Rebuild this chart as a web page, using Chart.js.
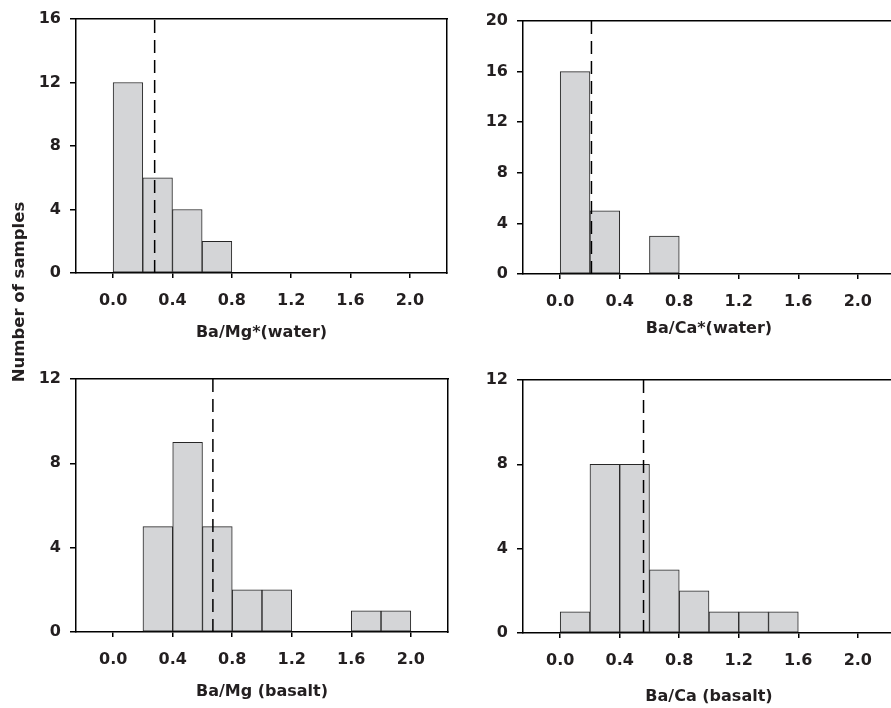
<!DOCTYPE html>
<html><head><meta charset="utf-8">
<script src="https://cdn.jsdelivr.net/npm/chart.js@4.4.1/dist/chart.umd.min.js"></script>
<style>
html,body{margin:0;padding:0;background:#fff;overflow:hidden;width:891px;height:708px;position:relative}
.p{position:absolute}
canvas{display:block}
#ytitle{position:absolute;left:-131px;top:282px;width:300px;height:20px;line-height:20px;text-align:center;transform:rotate(-90deg);font:bold 16.5px 'DejaVu Sans';color:#231f20;white-space:nowrap}
</style></head><body>
<div class="p" style="left:20px;top:0px"><canvas id="c1" width="440" height="342"></canvas></div>
<div class="p" style="left:470px;top:0px"><canvas id="c2" width="440" height="338"></canvas></div>
<div class="p" style="left:20px;top:345px"><canvas id="c3" width="440" height="356"></canvas></div>
<div class="p" style="left:470px;top:345px"><canvas id="c4" width="440" height="361"></canvas></div>
<div id="ytitle">Number of samples</div>
<script>
// ---- data ----
const binCenters = [0.1, 0.3, 0.5, 0.7, 0.9, 1.1, 1.3, 1.5, 1.7, 1.9];
const countsBaMgWater  = [12, 6, 4, 2, 0, 0, 0, 0, 0, 0];
const countsBaCaWater  = [16, 5, 0, 3, 0, 0, 0, 0, 0, 0];
const countsBaMgBasalt = [0, 5, 9, 5, 2, 2, 0, 0, 1, 1];
const countsBaCaBasalt = [1, 8, 8, 3, 2, 1, 1, 1, 0, 0];
const meanBaMgWater = 0.28;
const meanBaCaWater = 0.21;
const meanBaMgBasalt = 0.67;
const meanBaCaBasalt = 0.56;
const xTickValues = [0.0, 0.4, 0.8, 1.2, 1.6, 2.0];
const xTickLabels = ['0.0', '0.4', '0.8', '1.2', '1.6', '2.0'];
const yTicksBaMgWater  = [0, 4, 8, 12, 16];
const yTicksBaCaWater  = [0, 4, 8, 12, 16, 20];
const yTicksBaMgBasalt = [0, 4, 8, 12];
const yTicksBaCaBasalt = [0, 4, 8, 12];
const xTitleBaMgWater  = 'Ba/Mg*(water)';
const xTitleBaCaWater  = 'Ba/Ca*(water)';
const xTitleBaMgBasalt = 'Ba/Mg (basalt)';
const xTitleBaCaBasalt = 'Ba/Ca (basalt)';
const xRange = [-0.25, 2.25];

// ---- styles ----
const TEXT = '#231f20';
const tickFont = {family: 'DejaVu Sans', size: 16, weight: 'bold'};
const titleFont = {family: 'DejaVu Sans', size: 16, weight: 'bold'};

function makePanel(id, counts, mean, yTicks, xTitle, g) {
  const yMax = yTicks[yTicks.length - 1];
  new Chart(document.getElementById(id), {
    type: 'bar',
    data: {
      datasets: [
        {
          type: 'line', order: 0,
          data: [{x: mean, y: 0}, {x: mean, y: yMax}],
          borderColor: '#000', borderWidth: 1.5, borderDash: [13, 7],
          pointRadius: 0, fill: false
        },
        {
          type: 'bar', order: 1,
          data: binCenters.map((x, i) => ({x: x, y: counts[i] ? counts[i] : null})),
          backgroundColor: '#d4d5d7', borderColor: '#262626', borderWidth: 1,
          borderSkipped: false, barPercentage: 1, categoryPercentage: 1
        }
      ]
    },
    options: {
      responsive: false, animation: false,
      layout: {padding: {top: g.padTop, right: g.padRight, left: 0, bottom: 0}},
      plugins: {legend: {display: false}, tooltip: {enabled: false}},
      scales: {
        x: {
          type: 'linear', position: 'bottom', min: xRange[0], max: xRange[1], offset: false,
          afterBuildTicks: s => { s.ticks = xTickValues.map(v => ({value: v})); },
          afterFit: s => { s.height = g.xH; },
          ticks: {font: tickFont, color: TEXT, padding: 13, maxRotation: 0, autoSkip: false,
                  callback: (v) => xTickLabels[xTickValues.indexOf(v)]},
          grid: {display: true, drawOnChartArea: false, drawTicks: true, tickLength: 5, color: '#000', lineWidth: 1.5, offset: false},
          border: {display: true, color: '#000', width: 1.5},
          title: {display: true, text: xTitle, font: titleFont, color: TEXT, padding: 0}
        },
        x2: {
          type: 'linear', position: 'top', display: true,
          afterFit: s => { s.height = 0; },
          ticks: {display: false}, grid: {display: false, drawTicks: false},
          border: {display: true, color: '#000', width: 1.5}
        },
        y: {
          type: 'linear', position: 'left', min: 0, max: yMax,
          afterBuildTicks: s => { s.ticks = yTicks.map(v => ({value: v})); },
          afterFit: s => { s.width = g.yW; },
          ticks: {font: tickFont, color: TEXT, padding: 9, autoSkip: false},
          grid: {display: true, drawOnChartArea: false, drawTicks: true, tickLength: 6, color: '#000', lineWidth: 1.5},
          border: {display: true, color: '#000', width: 1.5}
        },
        y2: {
          type: 'linear', position: 'right', display: true,
          afterFit: s => { s.width = 0; },
          ticks: {display: false}, grid: {display: false, drawTicks: false},
          border: {display: true, color: '#000', width: 1.5}
        }
      }
    }
  });
}

makePanel('c1', countsBaMgWater, meanBaMgWater, yTicksBaMgWater, xTitleBaMgWater, {yW: 56, padTop: 19, padRight: 13, xH: 69});
makePanel('c2', countsBaCaWater, meanBaCaWater, yTicksBaCaWater, xTitleBaCaWater, {yW: 53, padTop: 21, padRight: 15, xH: 64});
makePanel('c3', countsBaMgBasalt, meanBaMgBasalt, yTicksBaMgBasalt, xTitleBaMgBasalt, {yW: 56, padTop: 34, padRight: 12, xH: 69});
makePanel('c4', countsBaCaBasalt, meanBaCaBasalt, yTicksBaCaBasalt, xTitleBaCaBasalt, {yW: 53, padTop: 35, padRight: 15, xH: 73});
</script>
</body></html>
